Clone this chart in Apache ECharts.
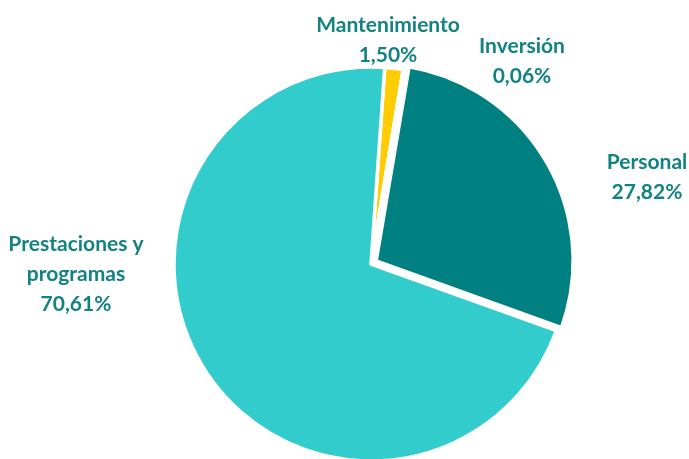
<!DOCTYPE html>
<html><head><meta charset="utf-8">
<script src="https://cdn.jsdelivr.net/npm/echarts@6/dist/echarts.min.js"></script>
<style>html,body{margin:0;padding:0;background:#fff}#c{width:689px;height:459px}</style>
</head><body><div id="c"></div>
<script>
const categories = ['Mantenimiento', 'Inversión', 'Personal', 'Prestaciones y\nprogramas'];
const values = [1.50, 0.06, 27.82, 70.61];
const colors = ['#FFCC00', '#FFCC00', '#008080', '#33CCCC'];
const exploded = [false, false, true, false];
const labelPos = [[388, 40], [522, 61], [647, 177], [76, 274]];

const CX = 371, CY = 264, R = 197, START = 86, OFFSET = 6;
const total = values.reduce((a, b) => a + b, 0);

function explodeCenter(idx) {
  let before = 0;
  for (let i = 0; i < idx; i++) before += values[i];
  const midDeg = (90 - START) + (before + values[idx] / 2) / total * 360; // clockwise from top
  const rad = midDeg * Math.PI / 180;
  return [CX + OFFSET * Math.sin(rad), CY - OFFSET * Math.cos(rad)];
}

const labelStyle = {
  show: true,
  position: 'outside',
  color: '#138282',
  fontFamily: 'Lato',
  fontWeight: 'bold',
  fontSize: 21,
  lineHeight: 30,
  align: 'center',
  formatter: p => p.name + '\n' + p.value.toFixed(2).replace('.', ',') + '%'
};

function makeSeries(center, onlyExploded) {
  return {
    type: 'pie',
    center: center,
    radius: R,
    startAngle: START,
    clockwise: true,
    silent: true,
    avoidLabelOverlap: false,
    label: labelStyle,
    labelLine: { show: false },
    labelLayout: p => ({ x: labelPos[p.dataIndex][0], y: labelPos[p.dataIndex][1], align: 'center', verticalAlign: 'middle' }),
    emphasis: { disabled: true },
    data: categories.map((c, i) => {
      const visible = onlyExploded ? exploded[i] : !exploded[i];
      return {
        name: c, value: values[i],
        itemStyle: visible ? { color: colors[i], borderColor: '#fff', borderWidth: 3.5 } : { color: 'rgba(0,0,0,0)', borderWidth: 0 },
        label: { show: visible }
      };
    })
  };
}

const chart = echarts.init(document.getElementById('c'));
chart.setOption({
  animation: false,
  series: [
    makeSeries([CX, CY], false),
    makeSeries(explodeCenter(exploded.indexOf(true)), true)
  ]
});
</script></body></html>
